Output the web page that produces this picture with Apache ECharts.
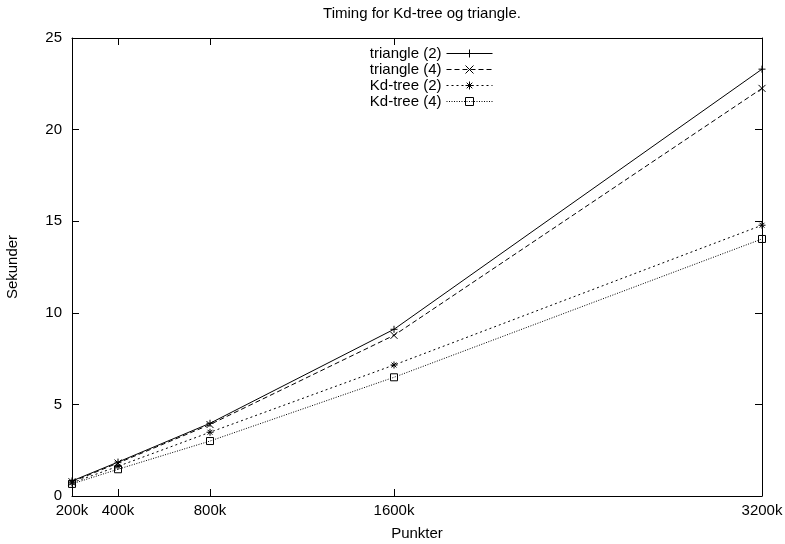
<!DOCTYPE html>
<html>
<head>
<meta charset="utf-8">
<script src="https://cdn.jsdelivr.net/npm/echarts@6/dist/echarts.min.js"></script>
<style>
html,body{margin:0;padding:0;background:#fff;}
#chart{width:785px;height:544px;}
</style>
</head>
<body>
<div id="chart"></div>
<script>
var points = [200, 400, 800, 1600, 3200];
var xTickLabels = ['200k', '400k', '800k', '1600k', '3200k'];
var triangle2 = [0.82, 1.85, 3.97, 9.1, 23.3];
var triangle4 = [0.78, 1.8, 3.9, 8.77, 22.25];
var kdtree2 = [0.72, 1.62, 3.48, 7.15, 14.78];
var kdtree4 = [0.66, 1.46, 3.0, 6.48, 14.03];
var seriesNames = ['triangle (2)', 'triangle (4)', 'Kd-tree (2)', 'Kd-tree (4)'];

var FONT = '"Liberation Sans", Arial, Helvetica, sans-serif';
var FS = 15;

function pairs(ys) { return points.map(function (x, i) { return [x, ys[i]]; }); }

var symPlus = 'path://M0,5L10,5M5,0L5,10';
var symCross = 'path://M0,0L10,10M10,0L0,10';
var symStar = 'path://M0,5L10,5M5,0L5,10M1.5,1.5L8.5,8.5M8.5,1.5L1.5,8.5';
var symSquare = 'path://M0,0L10,0L10,10L0,10Z';

function mk(name, ys, sym, dash) {
  return {
    name: name, type: 'line', data: pairs(ys),
    symbol: sym, symbolSize: 7, showSymbol: true, animation: false,
    lineStyle: { color: '#000', width: 1, type: dash },
    itemStyle: { color: 'transparent', borderColor: '#000', borderWidth: 1 },
    emphasis: { disabled: true }
  };
}

var chart = echarts.init(document.getElementById('chart'));
chart.setOption({
  animation: false,
  textStyle: { fontFamily: FONT, fontSize: FS, color: '#000' },
  title: {
    text: 'Timing for Kd-tree og triangle.', left: 417, top: 1, textAlign: 'center',
    textStyle: { fontFamily: FONT, fontSize: FS, fontWeight: 'normal', color: '#000' }
  },
  legend: {
    orient: 'vertical', align: 'right', right: 292, top: 46,
    itemWidth: 46, itemHeight: 10, itemGap: 1, padding: 0,
    lineStyle: { width: 1 },
    itemStyle: { borderWidth: 1, color: 'transparent', borderColor: '#000' },
    textStyle: { fontFamily: FONT, fontSize: FS, color: '#000' },
    data: seriesNames
  },
  grid: { left: 72, right: 23, top: 38, bottom: 48, containLabel: false, outerBoundsMode: 'none' },
  xAxis: [{
    type: 'value', min: 200, max: 3200, position: 'bottom',
    name: 'Punkter', nameLocation: 'middle', nameGap: 30,
    nameTextStyle: { fontFamily: FONT, fontSize: FS, color: '#000' },
    axisLine: { show: true, lineStyle: { color: '#000', width: 1 } },
    axisTick: { show: true, inside: true, length: 7, customValues: points, lineStyle: { color: '#000' } },
    axisLabel: { customValues: points, margin: 7, fontFamily: FONT, fontSize: FS, color: '#000',
      formatter: function (v) { var i = points.indexOf(v); return i >= 0 ? xTickLabels[i] : ''; } },
    splitLine: { show: false }
  }, {
    type: 'value', min: 200, max: 3200, position: 'top',
    axisLine: { show: true, onZero: false, lineStyle: { color: '#000', width: 1 } },
    axisTick: { show: true, inside: true, length: 7, customValues: points, lineStyle: { color: '#000' } },
    axisLabel: { show: false },
    splitLine: { show: false }
  }],
  yAxis: [{
    type: 'value', min: 0, max: 25, interval: 5, position: 'left',
    name: 'Sekunder', nameLocation: 'middle', nameRotate: 90, nameGap: 52,
    nameTextStyle: { fontFamily: FONT, fontSize: FS, color: '#000' },
    axisLine: { show: true, lineStyle: { color: '#000', width: 1 } },
    axisTick: { show: true, inside: true, length: 7, lineStyle: { color: '#000' } },
    axisLabel: { margin: 10, fontFamily: FONT, fontSize: FS, color: '#000' },
    splitLine: { show: false }
  }, {
    type: 'value', min: 0, max: 25, interval: 5, position: 'right',
    axisLine: { show: true, onZero: false, lineStyle: { color: '#000', width: 1 } },
    axisTick: { show: true, inside: true, length: 7, lineStyle: { color: '#000' } },
    axisLabel: { show: false },
    splitLine: { show: false }
  }],
  series: [
    mk(seriesNames[0], triangle2, symPlus, 'solid'),
    mk(seriesNames[1], triangle4, symCross, [5, 3]),
    mk(seriesNames[2], kdtree2, symStar, [2, 3]),
    mk(seriesNames[3], kdtree4, symSquare, [1, 1.5])
  ]
});
</script>
</body>
</html>
